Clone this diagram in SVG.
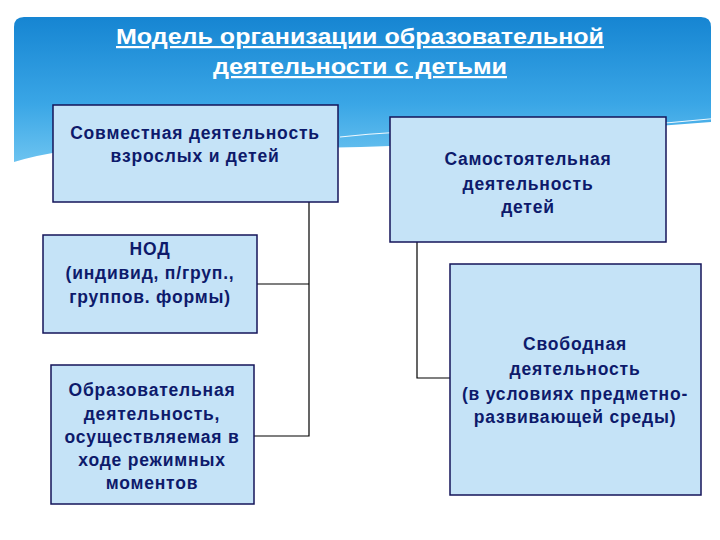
<svg xmlns="http://www.w3.org/2000/svg" width="720" height="540" viewBox="0 0 720 540">
<defs>
<linearGradient id="hdr" x1="0" y1="0" x2="0" y2="1">
<stop offset="0" stop-color="#1685d2"/>
<stop offset="0.6" stop-color="#3aa6e6"/>
<stop offset="1" stop-color="#6cc3f0"/>
</linearGradient>
<style>
.box{fill:#c5e3f7;stroke:#14145a;stroke-width:1.5}
.t{font-family:"Liberation Sans",Arial,sans-serif;font-weight:bold;font-size:17.5px;letter-spacing:0.8px;fill:#0d1a6b;text-anchor:middle}
.title{font-family:"Liberation Sans",Arial,sans-serif;font-weight:bold;font-size:22px;fill:#ffffff;text-anchor:middle;text-decoration:underline}
.c{fill:none;stroke:#000;stroke-width:1.2}
</style>
</defs>
<rect width="720" height="540" fill="#ffffff"/>
<path d="M14,27 Q14,17 24,17 L701,17 Q711,17 711,27 L711,122 Q600,130 480,142 Q300,152 120,147 Q60,148 14,162 Z" fill="url(#hdr)"/>
<path d="M340,137 Q420,128 520,132 Q620,128 720,118" fill="none" stroke="#ffffff" stroke-width="1.2" opacity="0.9"/>
<text class="title" x="360" y="44" textLength="488" lengthAdjust="spacingAndGlyphs">Модель организации образовательной</text>
<text class="title" x="360" y="74" textLength="294" lengthAdjust="spacingAndGlyphs">деятельности с детьми</text>
<g id="connectors">
<path class="c" d="M309,202 V436 H254"/>
<path class="c" d="M257,284 H309"/>
<path class="c" d="M417,242 V378 H450"/>
</g>
<g id="n1">
<rect class="box" x="53" y="105" width="285" height="97"/>
<text class="t" x="195" y="139">Совместная деятельность</text>
<text class="t" x="195" y="162">взрослых и детей</text>
</g>
<g id="n2">
<rect class="box" x="390" y="117" width="276" height="125"/>
<text class="t" x="528" y="165">Самостоятельная</text>
<text class="t" x="528" y="190">деятельность</text>
<text class="t" x="528" y="213">детей</text>
</g>
<g id="n3">
<rect class="box" x="43" y="235" width="214" height="98"/>
<text class="t" x="150" y="255">НОД</text>
<text class="t" x="150" y="279">(индивид, п/груп.,</text>
<text class="t" x="150" y="303">группов. формы)</text>
</g>
<g id="n4">
<rect class="box" x="51" y="365" width="203" height="139"/>
<text class="t" x="152" y="396">Образовательная</text>
<text class="t" x="152" y="420">деятельность,</text>
<text class="t" x="152" y="443">осуществляемая в</text>
<text class="t" x="152" y="466">ходе режимных</text>
<text class="t" x="152" y="489">моментов</text>
</g>
<g id="n5">
<rect class="box" x="450" y="264" width="251" height="231"/>
<text class="t" x="575" y="350">Свободная</text>
<text class="t" x="575" y="375">деятельность</text>
<text class="t" x="575" y="400">(в условиях предметно-</text>
<text class="t" x="575" y="423">развивающей  среды)</text>
</g>
</svg>
